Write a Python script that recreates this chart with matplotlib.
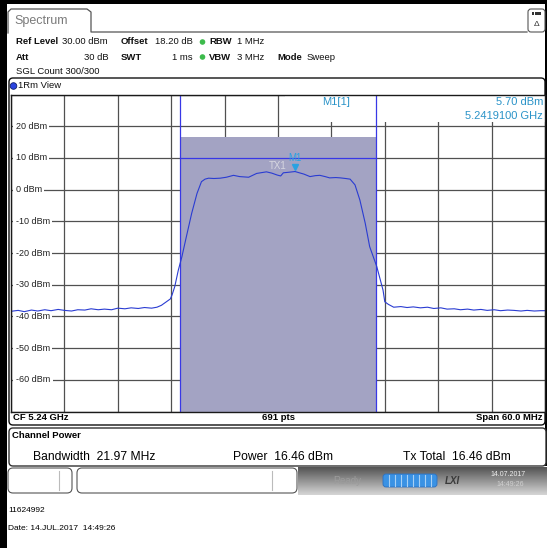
import numpy as np
import matplotlib
matplotlib.use('Agg')
import matplotlib.pyplot as plt
import matplotlib.transforms as mtrans
from matplotlib.patches import Rectangle, FancyBboxPatch, Circle

plt.rcParams['font.family'] = ['Liberation Sans', 'DejaVu Sans']

# analyzer settings
cf_mhz = 5240.0
span_mhz = 60.0
ref_level = 30.0
range_db = 100.0
chan_bw = 21.97
chan_power = 16.46
tx_total = 16.46
display_line = 10.0
m1_freq = 5241.91
m1_level = 5.70

level_ticks = [20, 10, 0, -10, -20, -30, -40, -50, -60]

# trace (MHz, dBm)
trace_freq = [5210.0, 5210.8, 5211.5, 5212.3, 5213.0, 5213.8, 5214.5, 5215.3, 5216.0, 5216.8,
              5217.5, 5218.3, 5219.0, 5219.8, 5220.5, 5221.3, 5222.0, 5222.8, 5223.5, 5224.3,
              5225.0, 5225.8, 5226.4, 5226.9, 5227.4, 5227.9, 5228.1, 5228.4, 5228.8, 5229.2,
              5229.7, 5230.3, 5230.9, 5231.4, 5231.8, 5232.2, 5232.8, 5233.5, 5234.2, 5235.0,
              5235.7, 5236.2, 5236.7, 5237.6, 5238.7, 5239.3, 5239.9, 5240.3, 5240.6, 5241.3,
              5241.91, 5242.4, 5242.9, 5243.6, 5244.2, 5244.7, 5245.3, 5245.8, 5246.5, 5247.0,
              5247.6, 5248.1, 5248.65, 5249.2, 5249.8, 5250.3, 5251.1, 5251.8, 5252.0, 5252.4,
              5253.0, 5253.8, 5254.5, 5255.2, 5256.0, 5256.8, 5257.5, 5258.3, 5259.0, 5259.8,
              5260.5, 5261.3, 5262.0, 5262.8, 5263.5, 5264.3, 5265.0, 5265.8, 5266.5, 5267.3,
              5268.0, 5268.8, 5269.5, 5270.0]
trace_dbm = [-38.4, -38.1, -38.5, -38.0, -38.3, -37.9, -38.2, -37.8, -38.1, -38.3,
             -37.9, -38.0, -37.6, -37.9, -37.7, -37.9, -37.4, -37.6, -37.3, -37.5,
             -37.2, -37.4, -37.1, -36.5, -35.5, -34.5, -33.2, -30.6, -25.4, -21.2,
             -14.9, -7.5, -1.2, 2.5, 3.3, 3.6, 3.5, 3.6, 3.9, 4.5,
             4.1, 4.0, 3.9, 5.1, 5.6, 5.2, 4.6, 4.3, 5.3, 5.5,
             5.70, 5.3, 4.9, 4.1, 4.4, 4.5, 4.1, 3.7, 3.8, 3.7,
             3.5, 3.3, 1.5, -3.3, -10.6, -18.0, -24.3, -31.7, -35.4, -36.2,
             -37.1, -36.9, -37.2, -37.0, -37.3, -37.1, -37.5, -37.3, -37.7, -37.6,
             -37.9, -37.7, -38.0, -37.8, -38.1, -37.9, -38.2, -38.0, -38.1, -38.3,
             -38.1, -38.3, -38.2, -38.2]

W, H = 547, 548
fig = plt.figure(figsize=(W / 100, H / 100), dpi=100)

# screen chrome, drawn in pixel coordinates
bg = fig.add_axes([0, 0, 1, 1])
bg.set_xlim(0, W)
bg.set_ylim(H, 0)
bg.axis('off')

bg.add_patch(Rectangle((0, 0), W, 4, fc='black', ec='none'))
bg.add_patch(Rectangle((0, 0), 7, H, fc='black', ec='none'))
bg.add_patch(Rectangle((545, 0), 2, 466, fc='black', ec='none'))

# tab
bg.plot([8, 8, 11, 87, 91, 91, 527], [33, 12, 9, 9, 12, 32, 32], color='#555555', lw=0.9)
bg.text(14, 21, 'Spectrum', fontsize=9, color='#7a7a7a', va='center')
bg.add_patch(FancyBboxPatch((528, 9), 17, 23, boxstyle='round,pad=0,rounding_size=3',
                            fc='white', ec='#555555', lw=0.8))
for i in range(3):
    bg.add_patch(Rectangle((532 + i * 3.2, 12), 2.4, 3, fc='#333333', ec='none'))
bg.text(537, 25, '\u0394', fontsize=6, ha='center', va='center', color='#333333')

# settings header
def item(x, y, s, bold=False, ha='left'):
    bg.text(x, y, s, fontsize=6.8, fontweight='bold' if bold else 'normal',
            ha=ha, va='center', color='#111111')

item(16, 42, 'Ref Level', True)
item(62, 42, '30.00 dBm')
item(121, 42, 'Offset', True)
item(155, 42, '18.20 dB')
item(209, 42, 'RBW', True)
item(237, 42, '1 MHz')
item(16, 57, 'Att', True)
item(109, 57, '30 dB', ha='right')
item(121, 57, 'SWT', True)
item(193, 57, '1 ms', ha='right')
item(209, 57, 'VBW', True)
item(237, 57, '3 MHz')
item(277, 57, 'Mode', True)
item(307, 57, 'Sweep')
item(16, 71, 'SGL Count 300/300')
for y in (42, 57):
    bg.add_patch(Circle((202.5, y), 2.8, fc='#3dbb4c', ec='none'))

# view window
bg.add_patch(FancyBboxPatch((9, 78), 536, 347, boxstyle='round,pad=0,rounding_size=4',
                            fc='white', ec='#111111', lw=1))
bg.add_patch(Circle((13.5, 86), 3.3, fc='#2a44e0', ec='#10206a', lw=0.6))
item(18, 86, '1Rm View')

# footer of the diagram
bg.text(13, 418, f'CF {cf_mhz / 1000:.2f} GHz', fontsize=6.8, fontweight='bold', va='center')
bg.text(278, 418, '691 pts', fontsize=6.8, fontweight='bold', va='center', ha='center')
bg.text(543, 418, f'Span {span_mhz:.1f} MHz', fontsize=6.8, fontweight='bold', va='center', ha='right')

# channel power result table
bg.add_patch(FancyBboxPatch((9, 428), 537, 38, boxstyle='round,pad=0,rounding_size=4',
                            fc='white', ec='#333333', lw=1))
bg.text(12, 436, 'Channel Power', fontsize=6.8, fontweight='bold', va='center')
bg.text(33, 457, f'Bandwidth  {chan_bw:.2f} MHz', fontsize=8.7, va='center')
bg.text(233, 457, f'Power  {chan_power:.2f} dBm', fontsize=8.7, va='center')
bg.text(403, 457, f'Tx Total  {tx_total:.2f} dBm', fontsize=8.7, va='center')

# status bar
grad = np.linspace(0, 1, 30).reshape(-1, 1)
bg.imshow(grad, cmap=plt.matplotlib.colors.LinearSegmentedColormap.from_list('sb', ['#555555', '#d4d4d4']),
          extent=(298, 547, 495, 467), aspect='auto', zorder=1)
bg.set_xlim(0, W)
bg.set_ylim(H, 0)
for x0, w, sep in [(8, 64, 59), (77, 220, 272)]:
    bg.add_patch(FancyBboxPatch((x0, 468), w, 25, boxstyle='round,pad=0,rounding_size=5',
                                fc='white', ec='#555555', lw=0.8, zorder=2))
    bg.plot([sep, sep], [471, 490], color='#bbbbbb', lw=0.8, zorder=3)
bg.text(333, 481, 'Ready', fontsize=7, color='#9c9c9c', va='center', zorder=3)
bg.add_patch(FancyBboxPatch((383, 474), 54, 13, boxstyle='round,pad=0,rounding_size=3',
                            fc='#3a92e4', ec='#2c70c0', lw=0.6, zorder=2))
for x in np.arange(389, 437, 6):
    bg.plot([x, x], [475, 486], color='#a8d0f4', lw=0.8, zorder=3)
bg.text(452, 481, 'LXI', fontsize=7, fontweight='bold', fontstyle='italic', color='#3a3a3a',
        ha='center', va='center', zorder=3)
bg.text(508, 474, '14.07.2017', fontsize=5, color='#f0f0f0', ha='center', va='center', zorder=3)
bg.text(510, 484, '14:49:26', fontsize=5, color='#d0d0d0', ha='center', va='center', zorder=3)

bg.text(8, 511, '11624992', fontsize=6, va='center')
bg.text(8, 529, 'Date: 14.JUL.2017  14:49:26', fontsize=6, va='center')

# spectrum diagram
ax = fig.add_axes([11 / W, 1 - 411.5 / H, 534 / W, 317 / H])
ax.set_xlim(cf_mhz - span_mhz / 2, cf_mhz + span_mhz / 2)
ax.set_ylim(ref_level - range_db, ref_level)
ax.set_xticks(np.linspace(cf_mhz - span_mhz / 2, cf_mhz + span_mhz / 2, 11))
ax.set_yticks(np.arange(ref_level - range_db, ref_level + 1, 10))
ax.tick_params(length=0, labelbottom=False, labelleft=False)
ax.set_axisbelow(True)
ax.grid(True, color='#505050', lw=0.9)
for sp in ax.spines.values():
    sp.set_color('#1a1a1a')
    sp.set_linewidth(1.0)
    sp.set_zorder(8)

for v in level_ticks:
    ax.text(0.0085, v, f'{v} dBm', transform=ax.get_yaxis_transform(), fontsize=6.5,
            color='#222222', ha='left', va='center', zorder=5,
            bbox=dict(fc='white', ec='none', pad=2.0))

# marker readout area
ax.add_patch(Rectangle((5240.8, 21.3), 29.2, 8.7, fc='white', ec='none', zorder=1.5))

lo, hi = cf_mhz - chan_bw / 2, cf_mhz + chan_bw / 2
ax.add_patch(Rectangle((lo, ref_level - range_db), chan_bw, chan_power - (ref_level - range_db),
                       fc='#a3a3c3', ec='none', zorder=2))
ax.axvline(lo, color='#3838e6', lw=0.9, zorder=3)
ax.axvline(hi, color='#3838e6', lw=0.9, zorder=3)
ax.plot([lo, hi], [display_line, display_line], color='#3838e6', lw=0.9, zorder=3)

ax.plot(trace_freq, trace_dbm, color='#2a3cd2', lw=0.8, zorder=6)

ax.text(5240.0, 7.4, 'TX1', fontsize=7, color='#d6d6e0', ha='center', va='center', zorder=6)
tri = mtrans.offset_copy(ax.transData, fig=fig, x=0, y=3.2, units='points')
ax.plot([m1_freq], [m1_level], marker='v', ms=5, color='#2aa2e2', transform=tri, zorder=7)
ax.annotate('M1', (m1_freq, m1_level), xytext=(0, 9.5), textcoords='offset points',
            fontsize=7, color='#2aa2e2', ha='center', va='center', zorder=7)

def px_text(x, y, s, **kw):
    fig.text(x / W, 1 - y / H, s, va='center', fontsize=8, color='#2a93c8', **kw)

px_text(336, 102, 'M1[1]', ha='center')
px_text(543, 102, f'{m1_level:.2f} dBm', ha='right')
px_text(543, 116, f'{m1_freq / 1000:.7f} GHz', ha='right')

fig.savefig('out.png', dpi=100)
